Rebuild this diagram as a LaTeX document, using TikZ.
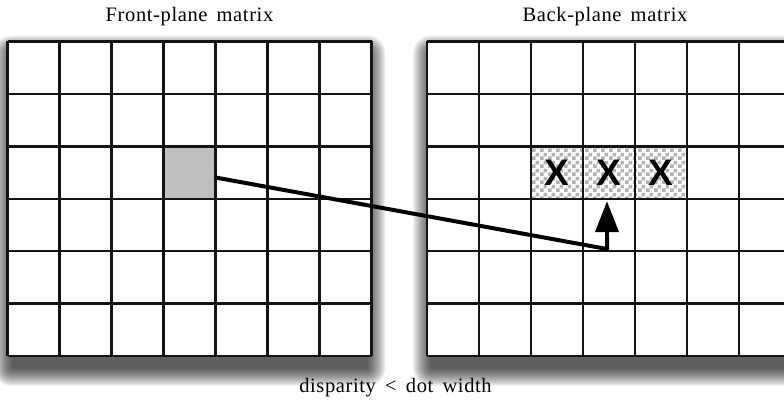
\documentclass[tikz,border=0pt]{standalone}
\usepackage{fontspec}
\setmainfont{Liberation Serif}
\newfontfamily\titlefont[LetterSpace=3,WordSpace=1.6]{Liberation Serif}
\newfontfamily\xfont{Liberation Sans}
\usetikzlibrary{arrows.meta,patterns}
\pgfdeclarepatternformonly{chk}{\pgfpointorigin}{\pgfqpoint{7.6pt}{7.6pt}}{\pgfqpoint{7.6pt}{7.6pt}}{%
  \pgfpathrectangle{\pgfpointorigin}{\pgfqpoint{3.8pt}{3.8pt}}%
  \pgfpathrectangle{\pgfqpoint{3.8pt}{3.8pt}}{\pgfqpoint{3.8pt}{3.8pt}}%
  \pgfusepath{fill}}
\tikzset{
  shadowlayer/.style={fill=black, fill opacity=0.052, draw=none},
  gridline/.style={line width=2.3pt, draw=black!92},
  cellbox/.style={minimum width=52pt, minimum height=52.4pt, inner sep=0pt, outer sep=0pt},
  graycell/.style={cellbox, fill=black!25},
  xcell/.style={cellbox, pattern=chk, pattern color=black!30, font=\xfont\bfseries\fontsize{37}{37}\selectfont},
  title/.style={font=\titlefont\fontsize{20.5}{20.5}\selectfont},
  conn/.style={line width=4pt, draw=black},
  arrowtip/.style={-{Triangle[length=31pt,width=23pt]}}
}
\begin{document}
\begin{tikzpicture}[x=1pt,y=1pt]
\clip (0,0) rectangle (784,405);
% soft shadows
\foreach \r in {0,...,18} {
  \fill[shadowlayer, rounded corners=\r pt] (11.5-\r,37-\r) rectangle (367.5+\r,351.5+\r);
  \fill[shadowlayer, rounded corners=\r pt] (431-\r,37-\r) rectangle (787+\r,351.5+\r);
}
\fill[white] (7.5,49) rectangle (371.5,363.5);
\fill[white] (427,49) rectangle (791,363.5);
% titles
\node[title] (ftitle) at (189.5,388) {Front-plane matrix};
\node[title] (btitle) at (605,388) {Back-plane matrix};
\node[title] (disp) at (395.5,17) {disparity < dot width};
% shaded cell
\node[graycell] (fcell) at (189.5,232.5) {};
% checker cells
\node[xcell] (xa) at (557,232.5) {X};
\node[xcell] (xb) at (609,232.5) {X};
\node[xcell] (xc) at (661,232.5) {X};
% grid lines
\foreach \i in {0,...,7} {
  \draw[gridline] (7.5+52*\i,49) -- (7.5+52*\i,363.5);
  \draw[gridline] (427+52*\i,49) -- (427+52*\i,363.5);
}
\foreach \j in {0,...,6} {
  \draw[gridline] (7.5,49+52.4*\j) -- (371.5,49+52.4*\j);
  \draw[gridline] (427,49+52.4*\j) -- (791,49+52.4*\j);
}
% connector
\coordinate (corner) at (607,156);
\draw[conn, line join=miter] ([yshift=-5pt]fcell.east) -- (corner) -- (607,168);
\draw[conn, arrowtip, shorten >=2.5pt] (corner) -- (corner |- xb.south);
\end{tikzpicture}
\end{document}
